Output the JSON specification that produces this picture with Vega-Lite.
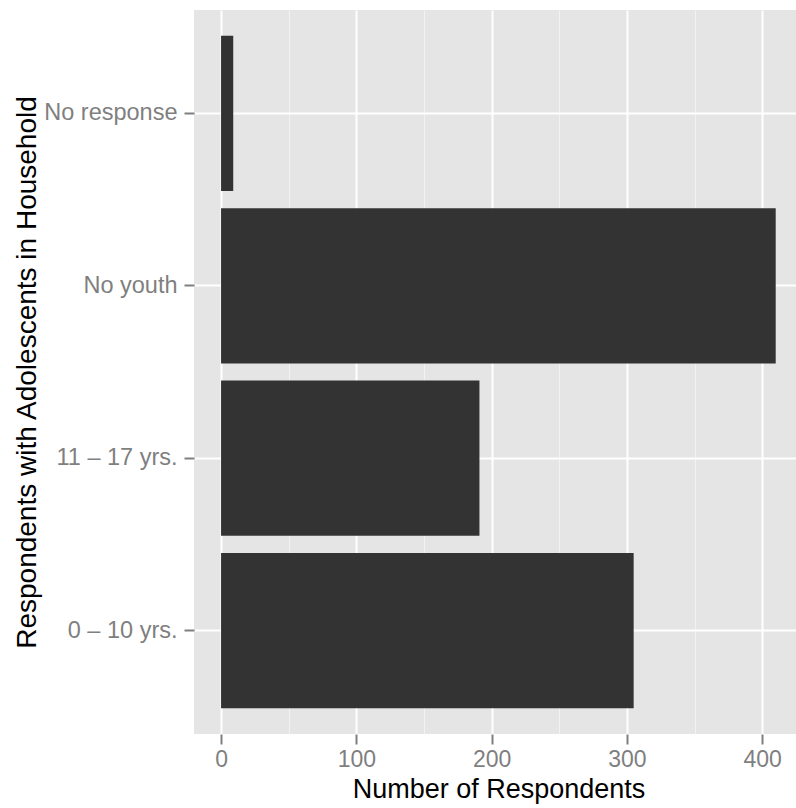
{
  "$schema": "https://vega.github.io/schema/vega-lite/v6.json",
  "width": 602,
  "height": 724,
  "autosize": {"type": "none"},
  "padding": {"left": 194, "top": 10, "right": 0, "bottom": 74},
  "background": "white",
  "config": {
    "font": "Liberation Sans",
    "view": {"fill": "#e5e5e5", "stroke": null}
  },
  "data": {
    "values": [
      {"group": "No response", "count": 9},
      {"group": "No youth", "count": 410},
      {"group": "11 – 17 yrs.", "count": 191},
      {"group": "0 – 10 yrs.", "count": 305}
    ]
  },
  "mark": {"type": "bar", "color": "#333333", "clip": true},
  "encoding": {
    "y": {
      "field": "group",
      "type": "nominal",
      "sort": ["No response", "No youth", "11 – 17 yrs.", "0 – 10 yrs."],
      "scale": {"paddingInner": 0.1, "paddingOuter": 0.15},
      "axis": {
        "title": "Respondents with Adolescents in Household",
        "titleFont": "Liberation Sans",
        "titleFontSize": 28,
        "titleFontWeight": "normal",
        "titleColor": "black",
        "titleAngle": -90,
        "titleAlign": "center",
        "titleBaseline": "alphabetic",
        "titleX": -159,
        "titleY": 362,
        "domain": false,
        "grid": true,
        "gridColor": "white",
        "gridWidth": 2,
        "bandPosition": 0.5,
        "ticks": true,
        "tickSize": 10,
        "tickWidth": 2,
        "tickColor": "#7f7f7f",
        "labelFontSize": 23.5,
        "labelColor": "#7f7f7f",
        "labelPadding": 7
      }
    },
    "x": {
      "field": "count",
      "type": "quantitative",
      "scale": {"domain": [-20, 425], "nice": false, "zero": false},
      "axis": {
        "title": "Number of Respondents",
        "titleFont": "Liberation Sans",
        "titleFontSize": 27,
        "titleFontWeight": "normal",
        "titleColor": "black",
        "titleAlign": "center",
        "titleBaseline": "alphabetic",
        "titleX": 304.5,
        "titleY": 63,
        "domain": false,
        "values": [0, 50, 100, 150, 200, 250, 300, 350, 400],
        "labelExpr": "datum.value % 100 === 0 ? datum.label : ''",
        "grid": true,
        "gridColor": {"condition": {"test": "datum.value % 100 === 0", "value": "white"}, "value": "#f2f2f2"},
        "gridWidth": {"condition": {"test": "datum.value % 100 === 0", "value": 2}, "value": 1},
        "tickSize": 10,
        "tickWidth": 2,
        "tickColor": "#7f7f7f",
        "tickOpacity": {"condition": {"test": "datum.value % 100 === 0", "value": 1}, "value": 0},
        "labelFontSize": 23,
        "labelColor": "#7f7f7f",
        "labelPadding": 4,
        "labelFlush": false,
        "labelOverlap": false
      }
    }
  }
}
